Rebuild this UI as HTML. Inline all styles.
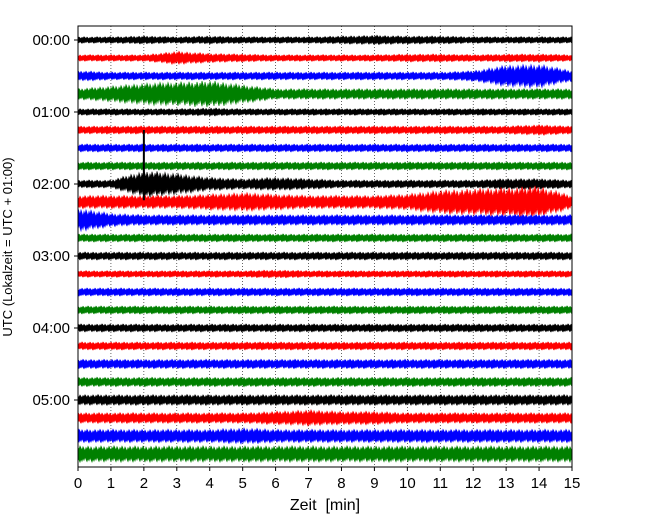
<!DOCTYPE html>
<html><head><meta charset="utf-8"><style>
body{margin:0;background:#fff;font-family:"Liberation Sans","DejaVu Sans",sans-serif}
svg{display:block}
</style></head><body>
<svg id="chart" width="650" height="520">
<g id="grid"></g>
<g id="traces"></g>
<rect x="78" y="26" width="494" height="441" fill="none" stroke="#000" stroke-width="1"/>
<g id="xaxis"></g>
<g id="yaxis"></g>
<text x="325" y="510" text-anchor="middle" font-size="16" style="white-space:pre">Zeit  [min]</text>
<text transform="translate(12,247) rotate(-90)" text-anchor="middle" font-size="13">UTC (Lokalzeit = UTC + 01:00)</text>
</svg>
<script>
const xTicks=[0,1,2,3,4,5,6,7,8,9,10,11,12,13,14,15];
const yTickLabels=["00:00","01:00","02:00","03:00","04:00","05:00"];
const colors=["#000","#f00","#00f","#008000"];
// half-amplitude envelope (px) per minute 0..15 for each of 24 traces
const env0=[2.5,2.5,3,2.5,3,2.5,2.5,2.5,3,3.5,3,3,2.5,2.5,2.5,2.5];
const env1=[2.5,2.5,2.5,5,3.5,3,2.5,2.5,2.5,2.5,3,3,2.5,3,3,2.5];
const env2=[4,3,3,3,3,3,3,3,3,3,3,3,4,8,9,4];
const env3=[4,6,8,9,10,7,4,4,4,4,4,4,4,4,4,4];
const env4=[2.5,2.5,2.5,2.5,3,2.5,2.5,2.5,2.5,2.5,2.5,2.5,2.5,2.5,2.5,2.5];
const env5=[3,3,3,3,3,3,3,3,3,3,3,3,3,3,4,3];
const env6=[3,3,3,3,3,3,3,3,3,3,3,3,3,3,3,3];
const env7=[3,3,3,3,3,3,3,3,3,3,3,3,3,3,3,3];
const env8=[3,3,10,8,5,4,5,4,3,3,3,3,3,4,4,3];
const env9=[5,5,5,5,6,7,6,5,5,5,6,9,10,11,12,5];
const env10=[9,5,4,4,4,4,4,4,4,4,4,4,4,4,4,4];
const env11=[3,3,3,3,3,3,3,3,3,3,3,3,3,3,3,3];
const env12=[3,3,3,3,3,3,3,3,3,3,3,3,3,3,3,3];
const env13=[2.5,2.5,2.5,2.5,2.5,2.5,3,2.5,2.5,2.5,2.5,2.5,2.5,2.5,2.5,2.5];
const env14=[3,3,3,3,3,3,3,3,3,3,3,3,3,3,3,3];
const env15=[3,3,3,3,3,3,3,3,3,3,3,3,3,3,3,3];
const env16=[3,3,3,3,3,3,3,3,3,3,3,3,3,3,3,3];
const env17=[3,3,3,3,3,3,3,3,3,3,3,3,3,3,3,3];
const env18=[3.5,3.5,3.5,3.5,3.5,3.5,3.5,3.5,3.5,3.5,3.5,3.5,3.5,3.5,3.5,3.5];
const env19=[3.5,3.5,3.5,3.5,3.5,3.5,3.5,3.5,3.5,3.5,3.5,3.5,3.5,3.5,3.5,3.5];
const env20=[4,4,4,4,4,4,4,4,4,4,4,4,4,4,4,4];
const env21=[4,4,4,4,4,4,5,6,5,5,4,4,4,4,4,4];
const env22=[5,5,5,5,5,6,5,5,5,5,5,5,5,5,5,5];
const env23=[6,6,6,6,6,6,6,6,6,6,6,6,6,6,6,6];
const envs=[env0,env1,env2,env3,env4,env5,env6,env7,env8,env9,env10,env11,env12,env13,env14,env15,env16,env17,env18,env19,env20,env21,env22,env23];
const spikeTrace=[8];
const spikeTime=[2.0];
const spikeAmp=[54];

const X0=78,X1=572,Y0=40,DY=18;
const xs=t=>X0+t*(X1-X0)/15;
const ys=k=>Y0+k*DY;
const NS="http://www.w3.org/2000/svg";
function mk(tag,attrs,parent){const e=document.createElementNS(NS,tag);for(const k in attrs)e.setAttribute(k,attrs[k]);parent.appendChild(e);return e;}
const grid=document.getElementById('grid'),xa=document.getElementById('xaxis'),ya=document.getElementById('yaxis'),tr=document.getElementById('traces');
xTicks.forEach(t=>{
  const x=xs(t);
  if(t>0&&t<15){const l=mk('line',{x1:x,x2:x,y1:26,y2:467,stroke:'#000','stroke-width':0.6,'stroke-dasharray':'1,2'},grid);
    
    }
  const tk=mk('line',{x1:x,x2:x,y1:467,y2:471,stroke:'#000'},xa);
  
  
  const tx=mk('text',{x:x,y:488,'text-anchor':'middle','font-size':15},xa);tx.textContent=t;
  
  
});
yTickLabels.forEach((s,i)=>{
  const y=ys(i*4);
  const tk=mk('line',{x1:74,x2:78,y1:y,y2:y,stroke:'#000'},ya);
  
  
  const tx=mk('text',{x:70,y:y+5,'text-anchor':'end','font-size':15},ya);tx.textContent=s;
  
  
});
const fr=v=>v-Math.floor(v);
envs.forEach((env,k)=>{
  const base=ys(k);let up=[],lo=[];
  for(let px=X0;px<=X1;px+=1){
    const t=(px-X0)/(X1-X0)*15;
    const j=Math.min(14,Math.floor(t)),f=t-j;
    const a=1.15*(env[j]*(1-f)+env[Math.min(15,j+1)]*f);
    const m1=0.4+0.8*fr(px*0.618034+k*0.371);
    const m2=0.4+0.8*fr(px*0.414214+k*0.733);
    up.push(px+','+(base-a*m1).toFixed(1));
    lo.unshift(px+','+(base+a*m2).toFixed(1));
  }
  const p=mk('polygon',{points:up.concat(lo).join(' '),fill:colors[k%4],stroke:colors[k%4],'stroke-width':0.6},tr);
  
  
});
spikeTrace.forEach((k,i)=>{
  const x=xs(spikeTime[i]);
  const l=mk('line',{x1:x,x2:x,y1:ys(k)-spikeAmp[i],y2:ys(k)+spikeAmp[i]*0.3,stroke:colors[k%4],'stroke-width':2},tr);
  
  
});
</script>
</body></html>
